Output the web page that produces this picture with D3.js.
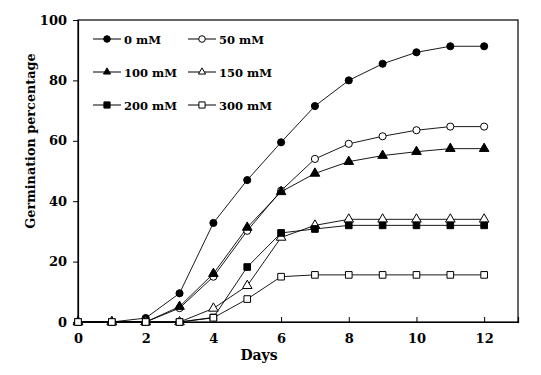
<!DOCTYPE html>
<html><head><meta charset="utf-8">
<script src="https://cdn.jsdelivr.net/npm/d3@7"></script>
<style>body{margin:0;background:#fff}svg{display:block}text{font-family:"DejaVu Serif",serif;font-weight:bold;fill:#000}</style>
</head><body><svg id="c" width="541" height="375"></svg>
<script>
const days = [0,1,2,3,4,5,6,7,8,9,10,11,12];
const s0   = [0,0,1.3,9.5,32.8,47,59.5,71.5,80,85.5,89.3,91.3,91.3];
const s50  = [0,0,0,4.6,15,30.2,43.5,54,59,61.5,63.5,64.7,64.7];
const s100 = [0,0,0,5.1,16,31.3,43.1,49.2,53.1,55.1,56.4,57.4,57.4];
const s150 = [0,0,0,0,4.5,12,28,32,34,34,34,34,34];
const s200 = [0,0,0,0,1.5,18.2,29.5,30.8,32,32,32,32,32];
const s300 = [0,0,0,0,1.4,7.6,15,15.6,15.6,15.6,15.6,15.6,15.6];
const labels = ["0 mM","50 mM","100 mM","150 mM","200 mM","300 mM"];
const xTicks = [0,2,4,6,8,10,12];
const yTicks = [0,20,40,60,80,100];

const series = [
  {name:labels[0], vals:s0,   shape:"circle",   fill:"#000"},
  {name:labels[1], vals:s50,  shape:"circle",   fill:"#fff"},
  {name:labels[2], vals:s100, shape:"triangle", fill:"#000"},
  {name:labels[3], vals:s150, shape:"triangle", fill:"#fff"},
  {name:labels[4], vals:s200, shape:"square",   fill:"#000"},
  {name:labels[5], vals:s300, shape:"square",   fill:"#fff"}
];

const svg = d3.select("#c");
const L=78, R=518, T=20, B=322;
const x = d3.scaleLinear().domain([0,13]).range([L,R]);
const y = d3.scaleLinear().domain([0,100]).range([B,T]);

svg.append("rect").attr("x",L).attr("y",T).attr("width",R-L).attr("height",B-T)
  .attr("fill","none").attr("stroke","#000").attr("stroke-width",1.2);

const xa = svg.append("g").attr("transform",`translate(0,${B})`)
  .call(d3.axisBottom(x).tickValues(xTicks).tickSize(-5).tickPadding(12).tickFormat(d3.format("d")));
const ya = svg.append("g").attr("transform",`translate(${L},0)`)
  .call(d3.axisLeft(y).tickValues(yTicks).tickSize(5).tickPadding(6).tickFormat(d3.format("d")));
[xa,ya].forEach(a=>{a.select(".domain").attr("stroke","#000").attr("stroke-width",1.2);
  a.selectAll(".tick line").attr("stroke","#000");
  a.selectAll("text").attr("font-size",13).attr("font-family","DejaVu Serif").attr("font-weight","bold");});

svg.append("text").attr("x",259).attr("y",360).attr("text-anchor","middle").attr("font-size",14).text("Days");
svg.append("text").attr("transform",`translate(35,141) rotate(-90)`).attr("text-anchor","middle").attr("font-size",12.8).text("Germination percentage");

function sym(shape, legend){
  if(shape==="circle") return d3.symbol().type(d3.symbolCircle).size(legend?34:40)();
  if(shape==="triangle") return d3.symbol().type(d3.symbolTriangle).size(legend?22:40)();
  return d3.symbol().type(d3.symbolSquare).size(legend?38:44)();
}
const line = d3.line().x((d,i)=>x(days[i])).y(d=>y(d));
series.forEach(s=>{
  svg.append("path").attr("d",line(s.vals)).attr("fill","none").attr("stroke","#000").attr("stroke-width",0.9);
});
series.forEach(s=>{
  svg.append("g").selectAll("path").data(s.vals).join("path")
    .attr("d",sym(s.shape)).attr("transform",(d,i)=>`translate(${x(days[i])},${y(d)})`)
    .attr("fill",s.fill).attr("stroke","#000").attr("stroke-width",1);
});

const legX=[93,188], legY=[39,72,105];
series.forEach((s,i)=>{
  const col=i%2, row=Math.floor(i/2);
  const g=svg.append("g").attr("transform",`translate(${legX[col]},${legY[row]})`);
  g.append("line").attr("x1",0).attr("x2",28).attr("stroke","#000").attr("stroke-width",1);
  g.append("path").attr("d",sym(s.shape,true)).attr("transform","translate(14,0)").attr("fill",s.fill).attr("stroke","#000");
  g.append("text").attr("x",31).attr("y",4.5).attr("font-size",11.5).text(s.name);
});
</script></body></html>
